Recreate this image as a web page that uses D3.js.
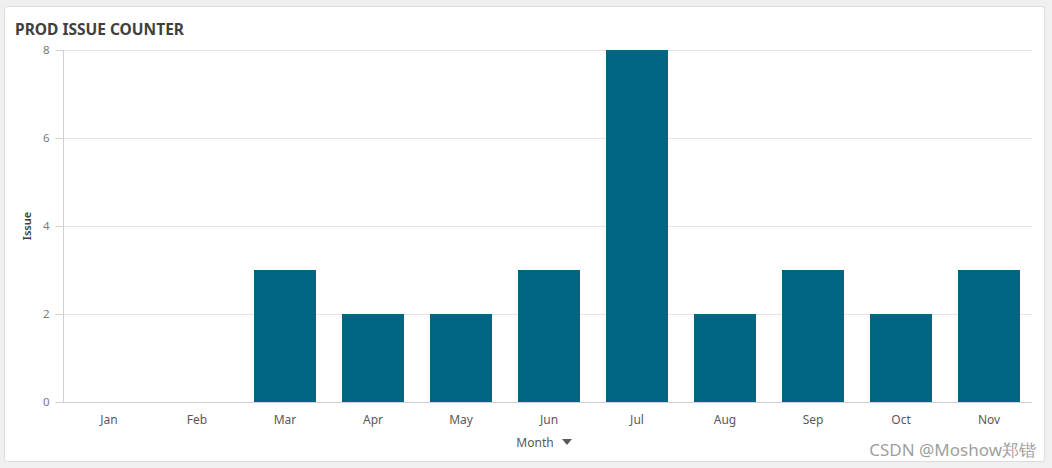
<!DOCTYPE html>
<html><head><meta charset="utf-8">
<script src="https://cdn.jsdelivr.net/npm/d3@7"></script>
<style>
html,body{margin:0;padding:0;background:#f0f0f0;}
svg{display:block;}
text{font-family:"Noto Sans","Open Sans",sans-serif;}
</style></head>
<body><svg id="c" width="1052" height="468"></svg>
<script>
const months = ["Jan","Feb","Mar","Apr","May","Jun","Jul","Aug","Sep","Oct","Nov"];
const issues = [0,0,3,2,2,3,8,2,3,2,3];
const yTicks = [0,2,4,6,8];
const title = "PROD ISSUE COUNTER";
const xTitle = "Month";
const yTitle = "Issue";
const watermark = "CSDN @Moshow郑锴";

const svg = d3.select("#c");
svg.append("rect").attr("x",4.5).attr("y",6.5).attr("width",1040).attr("height",455)
  .attr("rx",3).attr("fill","#fff").attr("stroke","#dcdcdc");
svg.append("text").attr("x",15).attr("y",35).attr("font-size",15.5).attr("font-weight",700)
  .attr("fill","#404040").text(title);

const x = d3.scaleBand().domain(months).range([65,1033]).paddingInner(0.295).paddingOuter(0.1475);
const y = d3.scaleLinear().domain([0,8]).range([402,50]);

// gridlines
svg.append("g").selectAll("line").data(yTicks.filter(d=>d>0)).join("line")
  .attr("x1",56).attr("x2",1032).attr("y1",d=>y(d)+0.5).attr("y2",d=>y(d)+0.5)
  .attr("stroke","#e6e6e6");

// bars
svg.append("g").selectAll("rect").data(months).join("rect")
  .attr("x",(d)=>x(d)).attr("width",x.bandwidth())
  .attr("y",(d,i)=>y(issues[i])).attr("height",(d,i)=>y(0)-y(issues[i]))
  .attr("fill","#006580");

// y axis
const ya = svg.append("g").attr("transform","translate(63.5,0)")
  .call(d3.axisLeft(y).tickValues(yTicks).tickFormat(d3.format("d")).tickSize(8).tickPadding(6));
ya.select(".domain").attr("stroke","#d0d0d0").attr("d","M0,50V402");
ya.selectAll(".tick line").attr("stroke","#d0d0d0");
ya.selectAll(".tick text").attr("fill","#7a7a7a").attr("font-size",11.5).attr("font-family","Noto Sans, sans-serif");

// x axis
const xa = svg.append("g").attr("transform","translate(0,402.5)")
  .call(d3.axisBottom(x).tickSize(0).tickPadding(13));
xa.select(".domain").attr("stroke","#d0d0d0").attr("d","M56,0H1032");
xa.selectAll(".tick text").attr("fill","#595959").attr("font-size",12).attr("font-family","Noto Sans, sans-serif");

// axis titles
svg.append("text").attr("transform","translate(31,226) rotate(-90)").attr("text-anchor","middle")
  .attr("font-size",11).attr("font-weight",600).attr("fill","#404040").text(yTitle);
svg.append("text").attr("x",535).attr("y",447).attr("text-anchor","middle")
  .attr("font-size",12).attr("fill","#595959").text(xTitle);
svg.append("path").attr("d","M562,439h10l-5,6z").attr("fill","#595959");

svg.append("text").attr("x",1036).attr("y",456).attr("text-anchor","end")
  .attr("font-size",17).attr("font-family","Liberation Sans, Arial, sans-serif")
  .attr("fill","#8c8c8c").attr("fill-opacity",0.85).text(watermark);
</script></body></html>
